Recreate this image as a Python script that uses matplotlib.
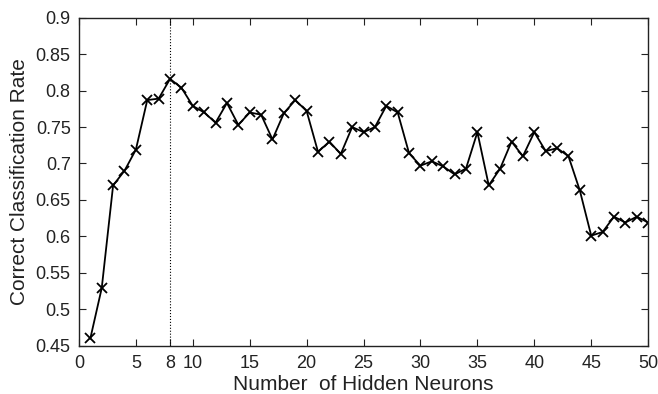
import numpy as np
import matplotlib
matplotlib.use("Agg")
import matplotlib.pyplot as plt

plt.rcParams['font.family'] = ['Liberation Sans', 'DejaVu Sans']
plt.rcParams['text.color'] = '#222222'
plt.rcParams['axes.labelcolor'] = '#222222'
plt.rcParams['xtick.labelcolor'] = '#222222'
plt.rcParams['ytick.labelcolor'] = '#222222'

# ===== DATA =====
neurons = list(range(1, 51))
rate = [0.460, 0.529, 0.670, 0.690, 0.719, 0.787, 0.789, 0.816, 0.804, 0.779,
        0.770, 0.756, 0.783, 0.753, 0.770, 0.767, 0.733, 0.769, 0.787, 0.772,
        0.716, 0.730, 0.713, 0.750, 0.743, 0.750, 0.779, 0.770, 0.714, 0.697,
        0.703, 0.696, 0.685, 0.693, 0.743, 0.670, 0.693, 0.730, 0.710, 0.743,
        0.717, 0.721, 0.710, 0.663, 0.601, 0.606, 0.627, 0.619, 0.627, 0.619]
best_n = 8
xticks = [0, 5, 8, 10, 15, 20, 25, 30, 35, 40, 45, 50]
yticks = [0.45, 0.5, 0.55, 0.6, 0.65, 0.7, 0.75, 0.8, 0.85, 0.9]

# ===== PLOT =====
fig = plt.figure(figsize=(6.58, 3.94), dpi=100)
ax = fig.add_axes([0.120, 0.1226, 0.865, 0.8324])

ax.plot(neurons, rate, 'k-x', lw=1.3, markersize=7, markeredgewidth=1.3)
ax.axvline(best_n, color='k', ls=':', lw=0.8)

ax.set_xlim(0, 50)
ax.set_ylim(0.45, 0.9)
ax.set_xticks(xticks)
ax.set_yticks(yticks)
ax.set_yticklabels([f'{v:g}' for v in yticks])
ax.tick_params(direction='in', top=True, right=True, labelsize=13, length=5,
               color='#222222')
ax.tick_params(axis='x', pad=7)
ax.tick_params(axis='y', pad=6)
for s in ax.spines.values():
    s.set_linewidth(1.0)
    s.set_color('#222222')

ax.set_xlabel('Number  of Hidden Neurons', fontsize=15, labelpad=2)
ax.set_ylabel('Correct Classification Rate', fontsize=15, labelpad=5)

fig.savefig('out.png', dpi=100)
